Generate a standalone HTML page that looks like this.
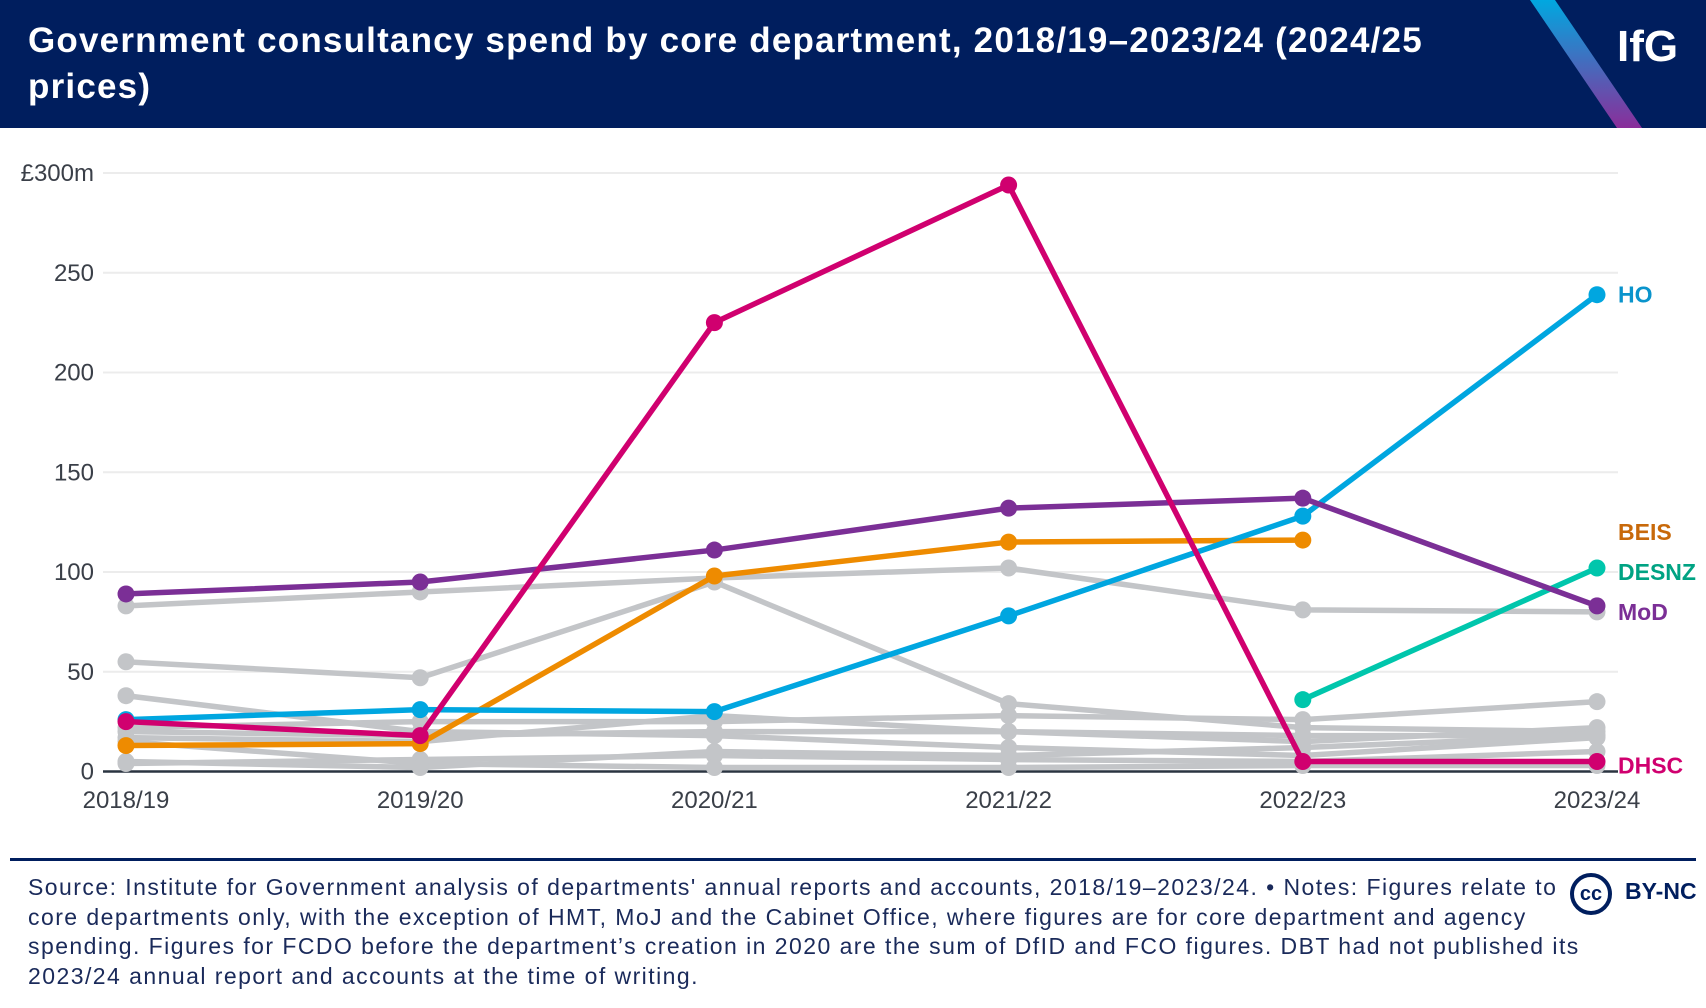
<!DOCTYPE html>
<html><head><meta charset="utf-8"><style>
body{margin:0;width:1706px;height:1008px;background:#fff;font-family:"Liberation Sans",sans-serif;overflow:hidden;position:relative}
#hdr{position:absolute;left:0;top:0;width:1706px;height:128px;background:#001e5e;overflow:hidden}
#title{position:absolute;left:28px;top:18px;color:#fff;font-weight:bold;font-size:35px;line-height:46px;white-space:nowrap;letter-spacing:1.2px}
#logo{position:absolute;left:1617px;top:22px;color:#fff;font-weight:bold;font-size:44px}
#foot{position:absolute;left:28px;top:873px;font-size:23px;line-height:29.5px;color:#1a2a5a;white-space:nowrap;letter-spacing:1.45px}
</style></head><body>
<div id="hdr">
<svg width="1706" height="128" style="position:absolute;left:0;top:0">
<defs><linearGradient id="gr" x1="0" y1="0" x2="0" y2="1"><stop offset="0" stop-color="#00a8e0"/><stop offset="1" stop-color="#8a2e9a"/></linearGradient></defs>
<polygon points="1530,0 1555,0 1642,128 1617,128" fill="url(#gr)"/></svg>
<div id="title">Government consultancy spend by core department, 2018/19–2023/24 (2024/25<br>prices)</div>
<div id="logo">IfG</div>
</div>
<svg id="chart" width="1706" height="860" style="position:absolute;left:0;top:0"></svg>
<div style="position:absolute;left:10px;top:858px;width:1686px;height:3px;background:#001e5e"></div>
<div id="foot">Source: Institute for Government analysis of departments' annual reports and accounts, 2018/19–2023/24. • Notes: Figures relate to<br>core departments only, with the exception of HMT, MoJ and the Cabinet Office, where figures are for core department and agency<br>spending. Figures for FCDO before the department’s creation in 2020 are the sum of DfID and FCO figures. DBT had not published its<br>2023/24 annual report and accounts at the time of writing.</div>
<div style="position:absolute;left:1570px;top:873px;width:34px;height:34px;border:4px solid #001e5e;border-radius:50%;text-align:center;line-height:34px;font-weight:bold;font-size:20px;color:#001e5e">cc</div>
<div style="position:absolute;left:1625px;top:878px;font-weight:bold;font-size:23px;color:#001e5e">BY-NC</div>
<script>
const categories=["2018/19","2019/20","2020/21","2021/22","2022/23","2023/24"];
const yTicks=[0,50,100,150,200,250,300];
const grayA=[83,90,97,102,81,80];
const grayB=[55,47,95,34,22,20];
const grayC=[38,20,18,12,8,17];
const grayD=[22,25,25,28,26,35];
const grayE=[20,18,20,20,15,22];
const grayF=[17,15,28,20,18,18];
const grayG=[4,6,8,6,5,10];
const grayH=[15,4,2,2,3,3];
const grayI=[5,2,10,8,12,18];
const dhsc=[25,18,225,294,5,5];
const ho=[26,31,30,78,128,239];
const mod=[89,95,111,132,137,83];
const beis=[13,14,98,115,116,null];
const desnz=[null,null,null,null,36,102];
const NS="http://www.w3.org/2000/svg";
const svg=document.getElementById('chart');
const x=i=>126+i*294.2;
const y=v=>771.5-v*(598.5/300);
function mk(t,a){const e=document.createElementNS(NS,t);for(const k in a)e.setAttribute(k,a[k]);svg.appendChild(e);return e;}
yTicks.forEach(t=>{
 const g=mk('line',{x1:103,x2:1618,y1:y(t),y2:y(t),stroke:t?'#ececec':'#2a3440','stroke-width':t?2:2.5});
 
 
 const l=mk('text',{x:94,y:y(t)+8,'text-anchor':'end','font-size':24,fill:'#3a3f48'});
 l.textContent=t===300?'£300m':t;
 
 
});
categories.forEach((c,i)=>{
 const l=mk('text',{x:x(i),y:808,'text-anchor':'middle','font-size':24,fill:'#3a3f48'});
 l.textContent=c;
 
 
});
function series(vals,col,name){
 let d='';vals.forEach((v,i)=>{if(v==null)return;d+=(d?'L':'M')+x(i)+','+y(v);});
 const p=mk('path',{d:d,fill:'none',stroke:col,'stroke-width':5.5,'stroke-linejoin':'round'});
 
 
 vals.forEach((v,i)=>{if(v==null)return;
  const c=mk('circle',{cx:x(i),cy:y(v),r:8.5,fill:col});
  
  
 });
}
[grayA,grayB,grayC,grayD,grayE,grayF,grayG,grayH,grayI].forEach(s=>series(s,'#c3c5c8','other-dept'));
series(beis,'#ee8b00','beis');
series(desnz,'#00c6ac','desnz');
series(ho,'#00a6e0','ho');
series(mod,'#7b2f96','mod');
series(dhsc,'#d0006f','dhsc');
[['HO',239,'#0a94cc'],['BEIS',120,'#c8690a'],['DESNZ',100,'#00a383'],['MoD',80,'#7b2f96'],['DHSC',3,'#d0006f']].forEach(a=>{
 const t=mk('text',{x:1618,y:y(a[1])+8,'font-size':23,'font-weight':'bold',fill:a[2]});
 t.textContent=a[0];
 
 
});
</script>
</body></html>
